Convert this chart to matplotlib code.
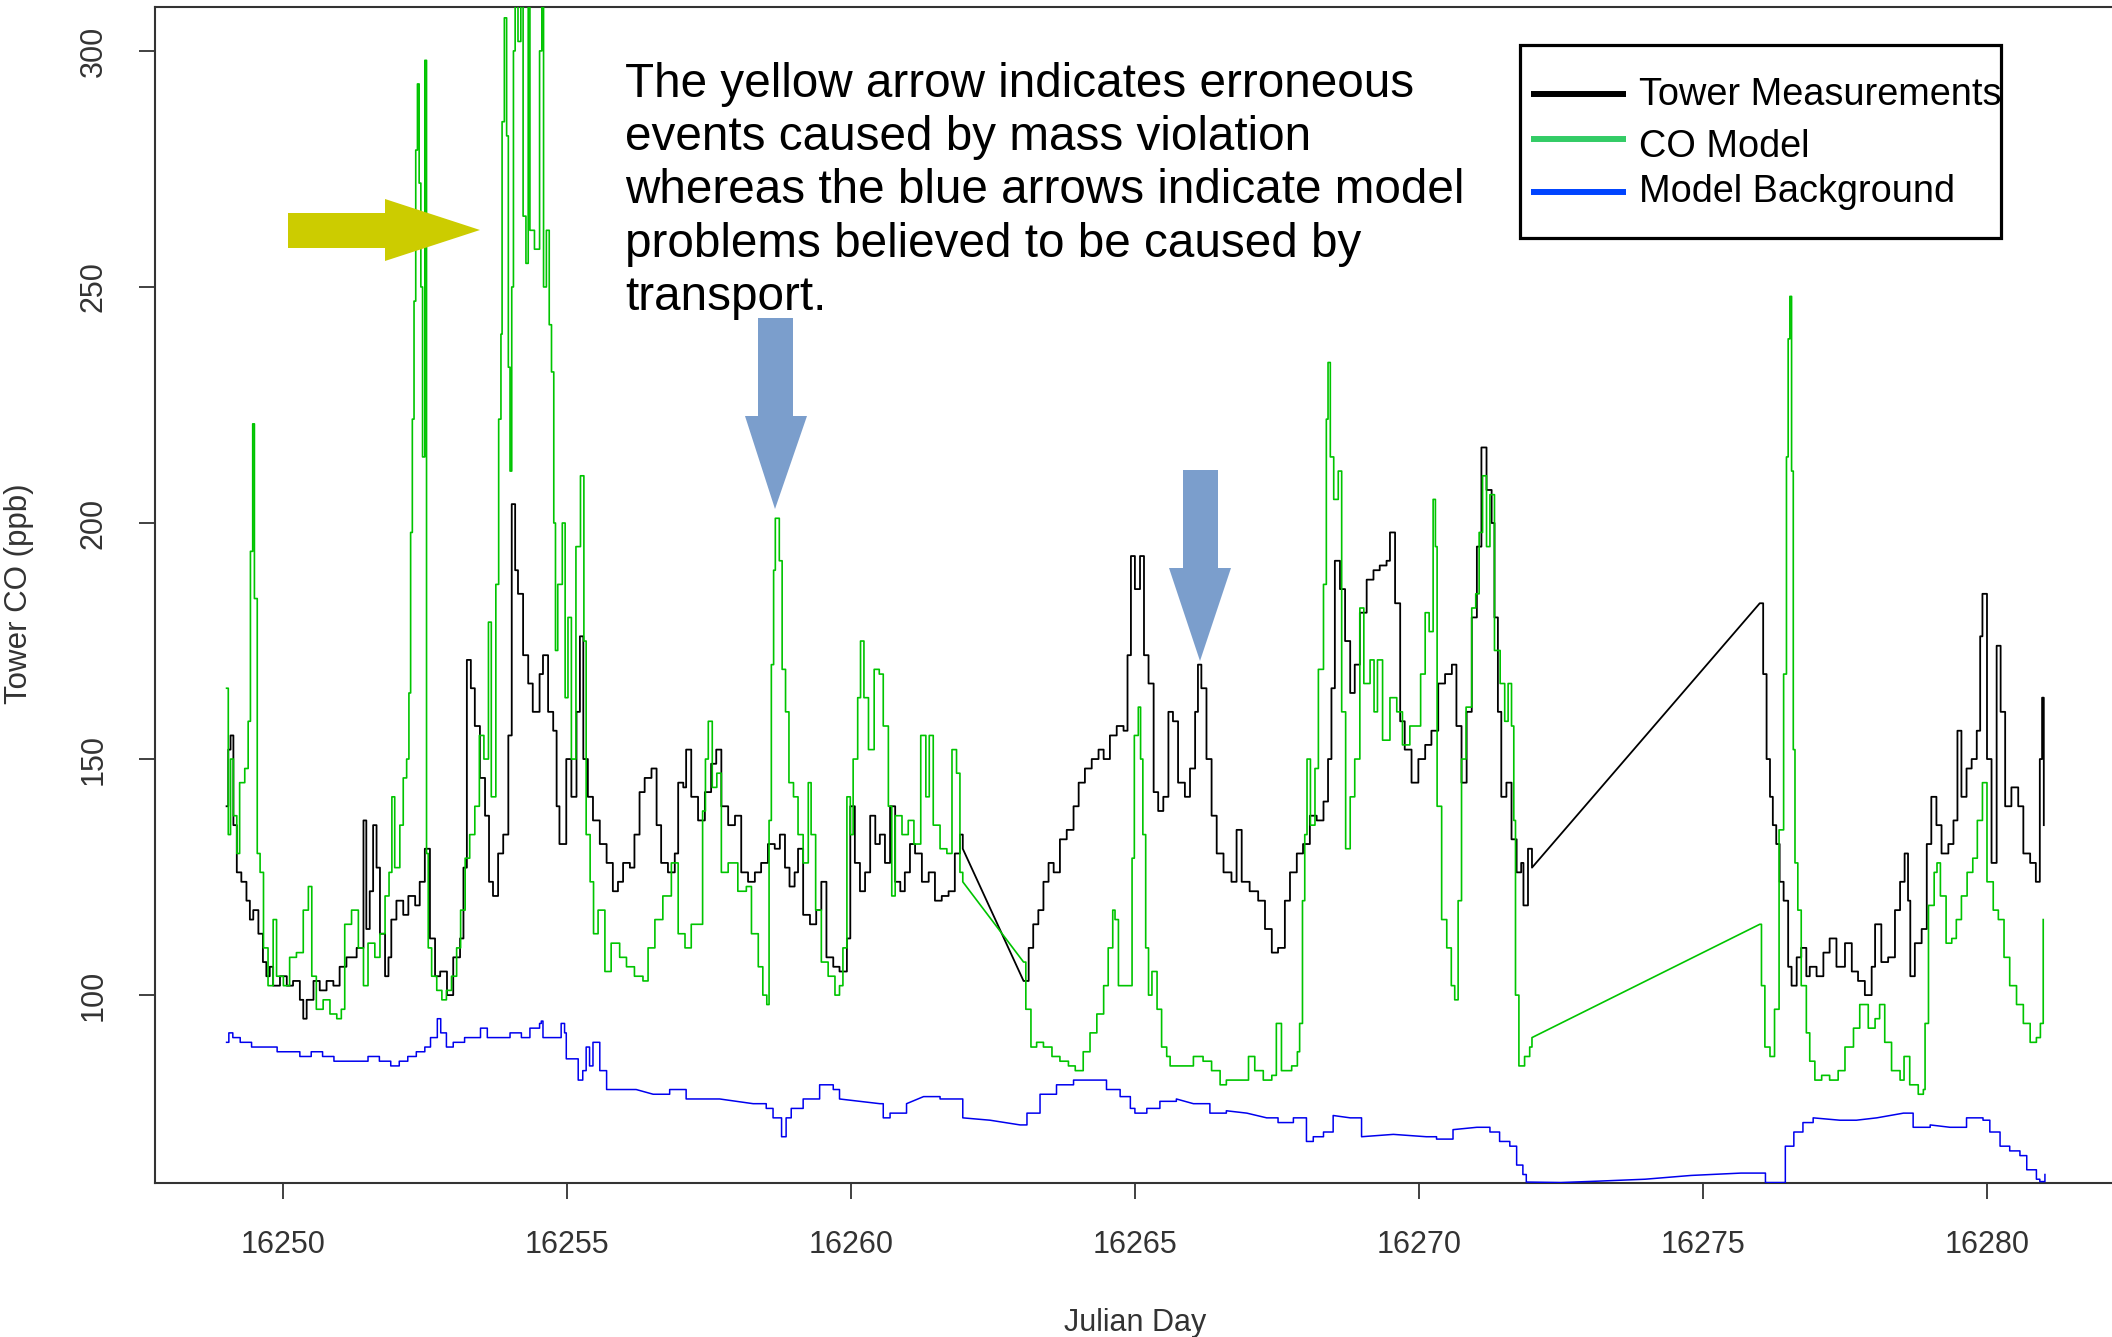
import matplotlib
matplotlib.use("Agg")
import matplotlib.pyplot as plt
from matplotlib.patches import Polygon, Rectangle
from matplotlib.lines import Line2D
import numpy as np

# ---------------- data ----------------
tower_day = [16249.01, 16249.04, 16249.08, 16249.13, 16249.19, 16249.27, 16249.36, 16249.42, 16249.48, 16249.57,
             16249.65, 16249.71, 16249.77, 16249.83, 16249.95, 16250.07, 16250.18, 16250.30, 16250.36, 16250.42,
             16250.54, 16250.65, 16250.77, 16250.89, 16251.00, 16251.12, 16251.30, 16251.42, 16251.47, 16251.53,
             16251.59, 16251.65, 16251.71, 16251.80, 16251.86, 16251.91, 16252.00, 16252.12, 16252.21, 16252.33,
             16252.41, 16252.50, 16252.59, 16252.68, 16252.77, 16252.89, 16253.00, 16253.12, 16253.18, 16253.24,
             16253.31, 16253.38, 16253.47, 16253.56, 16253.63, 16253.70, 16253.79, 16253.88, 16253.97, 16254.03,
             16254.09, 16254.14, 16254.23, 16254.32, 16254.40, 16254.52, 16254.58, 16254.67, 16254.76, 16254.82,
             16254.87, 16254.99, 16255.08, 16255.17, 16255.23, 16255.29, 16255.37, 16255.46, 16255.58, 16255.70,
             16255.81, 16255.90, 16255.99, 16256.11, 16256.19, 16256.28, 16256.37, 16256.49, 16256.58, 16256.66,
             16256.78, 16256.90, 16256.96, 16257.05, 16257.10, 16257.19, 16257.31, 16257.43, 16257.54, 16257.63,
             16257.72, 16257.84, 16257.96, 16258.07, 16258.19, 16258.31, 16258.42, 16258.54, 16258.66, 16258.75,
             16258.84, 16258.92, 16259.01, 16259.07, 16259.16, 16259.28, 16259.39, 16259.48, 16259.57, 16259.69,
             16259.80, 16259.93, 16259.99, 16260.07, 16260.16, 16260.25, 16260.34, 16260.43, 16260.51, 16260.60,
             16260.69, 16260.78, 16260.87, 16260.95, 16261.04, 16261.13, 16261.25, 16261.37, 16261.48, 16261.60,
             16261.72, 16261.83, 16261.92, 16261.97, 16263.04, 16263.13, 16263.21, 16263.30, 16263.39, 16263.48,
             16263.57, 16263.68, 16263.80, 16263.92, 16264.01, 16264.12, 16264.24, 16264.36, 16264.45, 16264.56,
             16264.68, 16264.80, 16264.87, 16264.93, 16265.00, 16265.09, 16265.16, 16265.24, 16265.33, 16265.41,
             16265.50, 16265.59, 16265.67, 16265.76, 16265.88, 16265.97, 16266.06, 16266.11, 16266.17, 16266.26,
             16266.35, 16266.44, 16266.56, 16266.70, 16266.79, 16266.88, 16267.02, 16267.17, 16267.29, 16267.41,
             16267.52, 16267.64, 16267.73, 16267.85, 16267.96, 16268.08, 16268.20, 16268.32, 16268.40, 16268.46,
             16268.52, 16268.61, 16268.70, 16268.79, 16268.87, 16268.96, 16269.08, 16269.20, 16269.31, 16269.43,
             16269.49, 16269.58, 16269.67, 16269.75, 16269.87, 16269.99, 16270.11, 16270.22, 16270.34, 16270.46,
             16270.58, 16270.66, 16270.75, 16270.84, 16270.93, 16271.02, 16271.10, 16271.19, 16271.28, 16271.33,
             16271.39, 16271.45, 16271.54, 16271.63, 16271.72, 16271.80, 16271.84, 16271.92, 16271.99, 16276.00,
             16276.06, 16276.12, 16276.18, 16276.23, 16276.29, 16276.35, 16276.42, 16276.50, 16276.56, 16276.65,
             16276.73, 16276.82, 16276.88, 16277.00, 16277.12, 16277.23, 16277.35, 16277.50, 16277.62, 16277.73,
             16277.85, 16277.97, 16278.03, 16278.14, 16278.26, 16278.38, 16278.47, 16278.55, 16278.61, 16278.65,
             16278.73, 16278.85, 16278.94, 16279.02, 16279.11, 16279.20, 16279.32, 16279.41, 16279.48, 16279.55,
             16279.64, 16279.73, 16279.82, 16279.88, 16279.92, 16280.00, 16280.08, 16280.17, 16280.24, 16280.32,
             16280.43, 16280.55, 16280.64, 16280.76, 16280.86, 16280.93, 16280.97, 16281.00]
tower_co = [140, 152, 155, 136, 126, 124, 120, 116, 118, 113,
            107, 104, 106, 102, 104, 102, 103, 99, 95, 99,
            103, 101, 103, 102, 106, 108, 110, 137, 114, 122,
            136, 127, 113, 104, 108, 116, 120, 117, 121, 119,
            124, 131, 112, 104, 105, 100, 108, 112, 127, 171,
            165, 157, 146, 138, 124, 121, 130, 134, 155, 204,
            190, 185, 172, 166, 160, 168, 172, 160, 156, 140,
            132, 150, 142, 160, 176, 150, 142, 137, 132, 128,
            122, 124, 128, 127, 134, 143, 146, 148, 136, 128,
            126, 130, 145, 144, 152, 142, 137, 143, 149, 152,
            140, 136, 138, 126, 124, 126, 128, 132, 131, 134,
            127, 123, 126, 131, 117, 115, 118, 124, 108, 106,
            105, 112, 140, 128, 122, 126, 138, 132, 134, 128,
            140, 124, 122, 126, 132, 130, 124, 126, 120, 121,
            122, 130, 134, 131, 103, 110, 115, 118, 124, 128,
            126, 133, 135, 140, 145, 148, 150, 152, 150, 155,
            157, 156, 172, 193, 186, 193, 172, 166, 143, 139,
            142, 160, 158, 145, 142, 148, 160, 170, 165, 150,
            138, 130, 126, 124, 135, 124, 122, 120, 114, 109,
            110, 120, 126, 130, 132, 138, 137, 141, 150, 165,
            192, 186, 175, 164, 170, 181, 188, 190, 191, 192,
            198, 183, 158, 152, 145, 150, 153, 156, 166, 168,
            170, 157, 145, 160, 180, 195, 216, 207, 200, 180,
            160, 142, 145, 133, 126, 128, 119, 131, 127, 183,
            168, 150, 142, 136, 132, 124, 120, 106, 102, 108,
            110, 104, 106, 104, 109, 112, 106, 111, 105, 103,
            100, 106, 115, 107, 108, 118, 124, 130, 120, 104,
            111, 114, 132, 142, 136, 130, 132, 137, 156, 142,
            148, 150, 156, 176, 185, 150, 128, 174, 160, 140,
            144, 140, 130, 128, 124, 150, 163, 136]

model_day = [16249.01, 16249.04, 16249.08, 16249.13, 16249.19, 16249.24, 16249.33, 16249.39, 16249.43, 16249.47,
             16249.50, 16249.55, 16249.60, 16249.66, 16249.74, 16249.83, 16249.89, 16250.01, 16250.12, 16250.24,
             16250.36, 16250.45, 16250.51, 16250.59, 16250.71, 16250.83, 16250.95, 16251.03, 16251.09, 16251.21,
             16251.33, 16251.42, 16251.50, 16251.62, 16251.71, 16251.80, 16251.87, 16251.92, 16251.97, 16252.06,
             16252.12, 16252.18, 16252.22, 16252.25, 16252.28, 16252.31, 16252.34, 16252.37, 16252.40, 16252.43,
             16252.46, 16252.50, 16252.53, 16252.56, 16252.62, 16252.71, 16252.80, 16252.88, 16252.97, 16253.06,
             16253.13, 16253.21, 16253.29, 16253.38, 16253.46, 16253.54, 16253.62, 16253.67, 16253.75, 16253.80,
             16253.84, 16253.86, 16253.90, 16253.94, 16253.97, 16254.00, 16254.03, 16254.06, 16254.09, 16254.14,
             16254.19, 16254.23, 16254.28, 16254.32, 16254.35, 16254.43, 16254.52, 16254.56, 16254.59, 16254.64,
             16254.69, 16254.73, 16254.77, 16254.80, 16254.84, 16254.92, 16254.97, 16255.02, 16255.08, 16255.16,
             16255.24, 16255.30, 16255.34, 16255.41, 16255.47, 16255.55, 16255.67, 16255.78, 16255.93, 16256.05,
             16256.19, 16256.34, 16256.43, 16256.55, 16256.69, 16256.84, 16256.96, 16257.08, 16257.19, 16257.34,
             16257.39, 16257.44, 16257.49, 16257.56, 16257.64, 16257.72, 16257.84, 16258.01, 16258.16, 16258.25,
             16258.37, 16258.45, 16258.52, 16258.56, 16258.60, 16258.64, 16258.67, 16258.74, 16258.79, 16258.85,
             16258.91, 16258.99, 16259.07, 16259.16, 16259.25, 16259.30, 16259.38, 16259.48, 16259.60, 16259.72,
             16259.80, 16259.86, 16259.93, 16259.99, 16260.04, 16260.12, 16260.17, 16260.23, 16260.31, 16260.41,
             16260.50, 16260.57, 16260.66, 16260.72, 16260.78, 16260.90, 16261.01, 16261.11, 16261.23, 16261.32,
             16261.38, 16261.45, 16261.57, 16261.69, 16261.78, 16261.86, 16261.92, 16261.97, 16263.04, 16263.08,
             16263.17, 16263.27, 16263.39, 16263.54, 16263.68, 16263.83, 16263.95, 16264.09, 16264.21, 16264.33,
             16264.45, 16264.53, 16264.61, 16264.65, 16264.71, 16264.83, 16264.92, 16264.95, 16264.99, 16265.06,
             16265.10, 16265.14, 16265.19, 16265.24, 16265.30, 16265.39, 16265.47, 16265.56, 16265.62, 16265.79,
             16266.03, 16266.20, 16266.35, 16266.50, 16266.61, 16266.79, 16267.00, 16267.11, 16267.26, 16267.41,
             16267.49, 16267.58, 16267.76, 16267.86, 16267.90, 16267.95, 16267.99, 16268.03, 16268.09, 16268.17,
             16268.23, 16268.32, 16268.37, 16268.40, 16268.44, 16268.50, 16268.58, 16268.64, 16268.71, 16268.79,
             16268.87, 16268.96, 16269.03, 16269.14, 16269.21, 16269.27, 16269.36, 16269.49, 16269.61, 16269.71,
             16269.84, 16269.95, 16270.03, 16270.11, 16270.18, 16270.25, 16270.29, 16270.32, 16270.40, 16270.49,
             16270.57, 16270.63, 16270.69, 16270.75, 16270.83, 16270.93, 16271.00, 16271.06, 16271.12, 16271.19,
             16271.25, 16271.33, 16271.43, 16271.51, 16271.57, 16271.63, 16271.67, 16271.70, 16271.76, 16271.86,
             16271.95, 16271.99, 16276.00, 16276.03, 16276.09, 16276.18, 16276.26, 16276.34, 16276.42, 16276.47,
             16276.50, 16276.53, 16276.56, 16276.59, 16276.62, 16276.67, 16276.73, 16276.82, 16276.88, 16276.97,
             16277.09, 16277.23, 16277.38, 16277.50, 16277.65, 16277.76, 16277.91, 16278.03, 16278.11, 16278.20,
             16278.32, 16278.47, 16278.54, 16278.64, 16278.79, 16278.88, 16278.91, 16278.97, 16279.07, 16279.12,
             16279.18, 16279.28, 16279.38, 16279.46, 16279.55, 16279.65, 16279.75, 16279.83, 16279.92, 16280.00,
             16280.11, 16280.20, 16280.30, 16280.40, 16280.52, 16280.64, 16280.76, 16280.87, 16280.94, 16280.99]
model_co = [165, 134, 150, 138, 130, 145, 148, 158, 194, 221,
            184, 130, 126, 110, 102, 116, 104, 102, 108, 109,
            118, 123, 104, 97, 99, 96, 95, 97, 115, 118,
            110, 102, 111, 108, 113, 121, 126, 142, 127, 136,
            146, 150, 164, 198, 222, 247, 279, 293, 272, 250,
            214, 298, 130, 110, 104, 101, 99, 101, 104, 110,
            118, 129, 134, 140, 155, 150, 179, 142, 187, 222,
            240, 285, 307, 282, 233, 211, 250, 300, 330, 302,
            330, 265, 255, 330, 262, 258, 300, 330, 250, 262,
            242, 232, 200, 173, 187, 200, 163, 180, 150, 195,
            210, 175, 134, 124, 113, 118, 105, 111, 108, 106,
            104, 103, 110, 116, 121, 128, 113, 110, 115, 115,
            139, 150, 158, 144, 147, 126, 128, 122, 123, 113,
            106, 100, 98, 137, 170, 190, 201, 192, 169, 160,
            145, 142, 134, 128, 145, 134, 118, 107, 104, 100,
            102, 110, 142, 134, 150, 163, 175, 163, 152, 169,
            168, 157, 140, 121, 138, 134, 137, 132, 155, 142,
            155, 136, 131, 130, 152, 147, 126, 124, 107, 97,
            89, 90, 89, 87, 86, 85, 84, 88, 92, 96,
            102, 110, 118, 116, 102, 102, 102, 129, 155, 161,
            150, 134, 110, 100, 105, 97, 89, 87, 85, 85,
            87, 86, 84, 81, 82, 82, 87, 84, 82, 83,
            94, 84, 85, 88, 94, 120, 134, 150, 136, 148,
            169, 187, 222, 234, 214, 205, 211, 160, 131, 142,
            150, 182, 166, 171, 160, 171, 154, 163, 160, 153,
            157, 157, 168, 181, 177, 205, 195, 140, 116, 110,
            102, 99, 120, 150, 161, 182, 185, 198, 210, 195,
            206, 173, 166, 158, 166, 157, 137, 100, 85, 87,
            89, 91, 115, 102, 89, 87, 97, 135, 168, 214,
            239, 248, 211, 152, 128, 118, 102, 92, 86, 82,
            83, 82, 84, 89, 93, 98, 93, 95, 98, 90,
            84, 82, 87, 81, 79, 80, 94, 119, 126, 128,
            121, 111, 112, 116, 121, 126, 129, 137, 145, 124,
            118, 116, 108, 102, 98, 94, 90, 91, 94, 116]

bg_day = [16249.01, 16249.05, 16249.12, 16249.25, 16249.45, 16249.70, 16249.90, 16250.10, 16250.30, 16250.50,
          16250.70, 16250.90, 16251.10, 16251.30, 16251.50, 16251.70, 16251.90, 16252.05, 16252.20, 16252.35,
          16252.50, 16252.60, 16252.72, 16252.78, 16252.88, 16253.00, 16253.20, 16253.35, 16253.48, 16253.60,
          16253.80, 16254.00, 16254.20, 16254.35, 16254.52, 16254.55, 16254.58, 16254.87, 16254.90, 16254.96,
          16254.99, 16255.11, 16255.20, 16255.28, 16255.34, 16255.40, 16255.46, 16255.58, 16255.70, 16255.93,
          16256.22, 16256.52, 16256.81, 16257.10, 16257.69, 16258.28, 16258.51, 16258.63, 16258.78, 16258.86,
          16258.95, 16259.16, 16259.45, 16259.69, 16259.80, 16260.16, 16260.51, 16260.57, 16260.69, 16260.98,
          16261.28, 16261.57, 16261.92, 16261.97, 16262.45, 16262.98, 16263.10, 16263.33, 16263.62, 16263.92,
          16264.21, 16264.50, 16264.74, 16264.92, 16265.00, 16265.21, 16265.44, 16265.73, 16266.03, 16266.32,
          16266.61, 16266.97, 16267.32, 16267.52, 16267.79, 16268.02, 16268.14, 16268.32, 16268.49, 16268.79,
          16268.99, 16269.55, 16270.13, 16270.31, 16270.60, 16271.02, 16271.25, 16271.42, 16271.60, 16271.72,
          16271.83, 16271.89, 16272.50, 16273.17, 16273.98, 16274.79, 16275.67, 16276.03, 16276.10, 16276.29,
          16276.45, 16276.60, 16276.76, 16276.94, 16277.41, 16277.70, 16278.06, 16278.53, 16278.70, 16279.00,
          16279.35, 16279.64, 16279.93, 16280.05, 16280.23, 16280.40, 16280.58, 16280.70, 16280.87, 16280.93,
          16281.02]
bg_co = [90, 92, 91, 90, 89, 89, 88, 88, 87, 88,
         87, 86, 86, 86, 87, 86, 85, 86, 87, 88,
         89, 91, 95, 92, 89, 90, 91, 91, 93, 91,
         91, 92, 91, 93, 94, 94.5, 91, 91, 94, 92,
         86.5, 86.5, 82, 84, 89, 85, 90, 84, 80, 80,
         80, 79, 80, 78, 78, 77, 76, 74, 70, 74,
         76, 78, 81, 80, 78, 77.5, 77, 74, 75, 77,
         78.5, 78, 78, 74, 73.5, 72.5, 75, 79, 81, 82,
         82, 80, 78.5, 76, 75, 76, 77.5, 78, 77, 75,
         75.5, 75, 74, 73, 74, 69, 70, 71, 74.5, 74,
         70, 70.5, 70, 69.5, 71.5, 72, 71, 69, 68, 64,
         62, 60.4, 60.3, 60.6, 61, 61.8, 62.3, 62.3, 60.3, 60.3,
         68, 71, 73, 74, 73.5, 73.5, 74, 75, 72, 72.5,
         72, 74, 73.5, 71, 68, 67, 66, 63, 61, 60.5,
         62]

x_ticks = [16250, 16255, 16260, 16265, 16270, 16275, 16280]
y_ticks = [100, 150, 200, 250, 300]
legend_labels = ["Tower Measurements", "CO Model", "Model Background"]
note_text = ("The yellow arrow indicates erroneous\n"
             "events caused by mass violation\n"
             "whereas the blue arrows indicate model\n"
             "problems believed to be caused by\n"
             "transport.")

# ---------------- figure ----------------
W, H = 2112, 1337
DPI = 100
plt.rcParams['font.family'] = ['Liberation Sans', 'DejaVu Sans']
fig = plt.figure(figsize=(W / DPI, H / DPI), dpi=DPI)
fig.patch.set_facecolor('white')

ax_l, ax_r, ax_t, ax_b = 155, 2112, 7, 1183
ax = fig.add_axes([ax_l / W, 1 - ax_b / H, (ax_r - ax_l) / W, (ax_b - ax_t) / H])


def step_path(x, y, gap=0.3):
    """Step path for hourly-like data; long gaps joined by straight lines."""
    xs, ys = [x[0]], [y[0]]
    for i in range(1, len(x)):
        if x[i] - x[i - 1] > gap:
            xs.append(x[i]); ys.append(y[i])
        else:
            xs += [x[i], x[i]]
            ys += [y[i - 1], y[i]]
    return xs, ys


bx, by = step_path(bg_day, bg_co)
mx, my = step_path(model_day, model_co)
tx, ty = step_path(tower_day, tower_co)

ax.plot(bx, by, color='#0000ee', lw=1.1, zorder=3)
ax.plot(tx, ty, color='black', lw=1.3, zorder=4)
ax.plot(mx, my, color='#00c400', lw=1.2, zorder=5)

ax.set_xlim(16247.75, 16250 + (ax_r - 283) / 56.8)
ax.set_ylim(60.2, 309.3)
ax.set_xticks(x_ticks)
ax.set_yticks(y_ticks)
ax.set_xticklabels([str(v) for v in x_ticks])
ax.set_yticklabels([str(v) for v in y_ticks], rotation=90, va='center')
ax.tick_params(axis='both', direction='out', length=11.5, width=1.3, color='#333333',
               labelsize=22, labelcolor='#333333', pad=22)
for s in ['left', 'bottom', 'top']:
    ax.spines[s].set_linewidth(1.5)
    ax.spines[s].set_color('#333333')
ax.spines['right'].set_visible(False)

# axis titles
fig.text(1135 / W, 1 - 1323 / H, 'Julian Day', ha='center', va='center', fontsize=22, color='#333333')
fig.text(19 / W, 1 - 594 / H, 'Tower CO (ppb)', ha='center', va='center', rotation=90,
         fontsize=22.5, color='#333333')


def fpt(x, y):
    return (x / W, 1 - y / H)


# arrows (annotation shapes in figure pixels)
yellow = [(288, 213), (385, 213), (385, 199), (480, 230), (385, 261), (385, 248), (288, 248)]
blue1 = [(758, 318), (793, 318), (793, 416), (807, 416), (775, 509), (745, 416), (758, 416)]
blue2 = [(1183, 470), (1218, 470), (1218, 568), (1231, 568), (1200, 661), (1169, 568), (1183, 568)]
for pts, col in [(yellow, '#cccc00'), (blue1, '#7b9ecc'), (blue2, '#7b9ecc')]:
    fig.patches.append(Polygon([fpt(*p) for p in pts], closed=True, facecolor=col,
                               edgecolor='none', transform=fig.transFigure, zorder=10))

# annotation text
fig.text(625 / W, 1 - 62 / H, note_text, ha='left', va='top', fontsize=34.3,
         linespacing=1.235, color='black', zorder=11)

# legend (drawn manually)
fig.patches.append(Rectangle(fpt(1520, 238), (2001 - 1520) / W, (238 - 45) / H, fill=True,
                             facecolor='white', edgecolor='black', lw=2.3,
                             transform=fig.transFigure, zorder=12))
leg_cols = ['black', '#33cc66', '#0044ff']
line_y = [94, 139, 192]
base_y = [105, 157, 202]
for lab, col, ly, by_ in zip(legend_labels, leg_cols, line_y, base_y):
    fig.lines.append(Line2D([1531 / W, 1626 / W], [1 - ly / H, 1 - ly / H], color=col, lw=4.3,
                            transform=fig.transFigure, zorder=13, solid_capstyle='butt'))
    fig.text(1639 / W, 1 - by_ / H, lab, ha='left', va='baseline', fontsize=27.3,
             color='black', zorder=13)

fig.savefig('out.png', dpi=DPI)
